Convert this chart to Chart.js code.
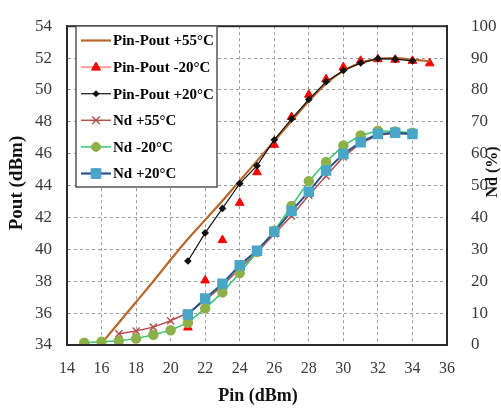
<!DOCTYPE html>
<html><head><meta charset="utf-8">
<script src="https://cdn.jsdelivr.net/npm/chart.js@4/dist/chart.umd.min.js"></script>
<style>html,body{margin:0;padding:0;background:#fff;}canvas{display:block;}</style>
</head><body>
<canvas id="c" width="501" height="408"></canvas>
<script>
// Pin-Pout +55°C (smooth line)
const pin55Pout = [16,17,18,19,20,21,22,23,24,25,26,27,28,29,30,31,32,33,34,35];
const pout55 = [34.1,35.4,36.7,38.0,39.35,40.65,41.85,43.05,44.3,45.55,46.8,48.05,49.3,50.4,51.2,51.7,51.95,52.0,51.9,51.8];
// Pin-Pout -20°C (red triangles)
const pinM20Pout = [21,22,23,24,25,26,27,28,29,30,31,32,33,34,35];
const poutM20 = [35.1,38.05,40.58,42.92,44.84,46.56,48.3,49.7,50.67,51.43,51.83,51.93,51.9,51.83,51.67];
// Pin-Pout +20°C (black)
const pin20Pout = [21,22,23,24,25,26,27,28,29,30,31,32,33,34];
const pout20 = [39.27,41.03,42.57,44.13,45.25,46.87,48.18,49.4,50.52,51.22,51.69,51.97,51.93,51.83];
// Nd +55°C
const pin55Nd = [17,18,19,20,21,22,23,24,25,26,27,28,29,30,31,32,33,34];
const nd55 = [3.5,4.4,5.6,7.6,10.1,14.0,18.6,24.0,29.0,34.8,40.5,47.0,53.0,59.0,63.3,65.8,66.4,66.0];
// Nd -20°C
const pinM20Nd = [15,16,17,18,19,20,21,22,23,24,25,26,27,28,29,30,31,32,33,34];
const ndM20 = [0.7,1.0,1.3,2.0,3.2,4.6,7.0,11.5,16.5,22.6,29.2,35.8,43.6,51.4,57.4,62.6,65.7,67.2,67.0,66.6];
// Nd +20°C
const pin20Nd = [21,22,23,24,25,26,27,28,29,30,31,32,33,34];
const nd20 = [9.6,14.6,19.2,25.0,29.6,35.5,42.0,48.1,54.7,59.9,63.6,66.2,66.6,66.2];

const xTicks = {min:14, max:36, step:2};
const yLeftTicks = {min:34, max:54, step:2};
const yRightTicks = {min:0, max:100, step:10};

const labels = ['Pin-Pout +55°C','Pin-Pout -20°C','Pin-Pout +20°C','Nd +55°C','Nd -20°C','Nd +20°C'];
const xTitle = 'Pin (dBm)', yTitle = 'Pout (dBm)', y1Title = 'Nd (%)';

const pts = (xs, ys) => xs.map((x,i)=>({x:x, y:ys[i]}));

const C = {
  brown:'#b8662a', red:'#ff0000', redLine:'#ff9c9c', black:'#111111',
  nd55:'#b5524f', green:'#35c96a', greenFill:'#8db04b', blue:'#27508e', blueFill:'#4aa6c6'
};

function drawMarker(ctx, type, x, y, r, fill, stroke, lw){
  ctx.save();
  ctx.fillStyle = fill; ctx.strokeStyle = stroke; ctx.lineWidth = lw;
  ctx.beginPath();
  if (type==='triangle'){
    ctx.moveTo(x, y - r); ctx.lineTo(x + r*0.9, y + r*0.6); ctx.lineTo(x - r*0.9, y + r*0.6); ctx.closePath(); ctx.fill(); ctx.stroke();
  } else if (type==='rectRot'){
    ctx.moveTo(x, y-r); ctx.lineTo(x+r, y); ctx.lineTo(x, y+r); ctx.lineTo(x-r, y); ctx.closePath(); ctx.fill(); ctx.stroke();
  } else if (type==='crossRot'){
    const d = r*0.75;
    ctx.moveTo(x-d,y-d); ctx.lineTo(x+d,y+d); ctx.moveTo(x+d,y-d); ctx.lineTo(x-d,y+d); ctx.stroke();
  } else if (type==='circle'){
    ctx.arc(x,y,r,0,Math.PI*2); ctx.fill(); ctx.stroke();
  } else if (type==='rect'){
    const s = r*0.75;
    ctx.rect(x-s,y-s,2*s,2*s); ctx.fill(); ctx.stroke();
  }
  ctx.restore();
}

const legendRows = [
  {line:C.brown, lw:2.2, m:null},
  {line:C.redLine, lw:2, m:['triangle',5,C.red,C.red,1]},
  {line:C.black, lw:1.2, m:['rectRot',3,C.black,C.black,1]},
  {line:C.nd55, lw:1.5, m:['crossRot',5,C.nd55,C.nd55,1.5]},
  {line:C.green, lw:1.5, m:['circle',4.5,C.greenFill,C.greenFill,1]},
  {line:C.blue, lw:2.2, m:['rect',6.5,C.blueFill,C.blueFill,1]}
];

const framePlugin = {
  id:'frameAndLegend',
  afterDraw(chart){
    const ctx = chart.ctx, a = chart.chartArea;
    ctx.save();
    ctx.setLineDash([]);
    ctx.strokeStyle = '#2a2a2a'; ctx.lineWidth = 2;
    ctx.strokeRect(a.left, a.top, a.right - a.left, a.bottom - a.top);
    const bx = 76, by = 26, bw = 141, bh = 161;
    ctx.fillStyle = '#fff'; ctx.fillRect(bx, by, bw, bh);
    ctx.strokeStyle = '#555'; ctx.lineWidth = 1.5; ctx.strokeRect(bx, by, bw, bh);
    ctx.font = 'bold 15px "Liberation Serif", "Times New Roman", serif';
    ctx.textBaseline = 'middle'; ctx.textAlign = 'left';
    legendRows.forEach((r,i)=>{
      const cy = 40.5 + i*26.6;
      ctx.strokeStyle = r.line; ctx.lineWidth = r.lw;
      ctx.beginPath(); ctx.moveTo(81, cy); ctx.lineTo(111, cy); ctx.stroke();
      if (r.m) drawMarker(ctx, r.m[0], 96, cy, r.m[1], r.m[2], r.m[3], r.m[4]);
      ctx.fillStyle = '#000';
      ctx.fillText(labels[i], 113, cy + 1);
    });
    ctx.fillStyle = '#111';
    ctx.font = 'bold 18px "Liberation Serif", "Times New Roman", serif';
    ctx.textAlign = 'center'; ctx.textBaseline = 'middle';
    ctx.fillText(xTitle, 258, 396);
    ctx.save(); ctx.translate(17, 183); ctx.rotate(-Math.PI/2);
    ctx.font = 'bold 19px "Liberation Serif", "Times New Roman", serif';
    ctx.fillText(yTitle, 0, 0); ctx.restore();
    ctx.save(); ctx.translate(493, 172); ctx.rotate(-Math.PI/2);
    ctx.font = 'bold 16px "Liberation Serif", "Times New Roman", serif';
    ctx.fillText(y1Title, 0, 0); ctx.restore();
    ctx.restore();
  }
};

const tickFont = {family:'"Liberation Serif", "Times New Roman", serif', size:17};
const dash = [3,3];
const gridStyle = {color:'#9c9c9c', lineWidth:1, drawTicks:false, borderDash:dash};
const borderStyle = {display:true, color:'#2a2a2a', width:2, dash:dash};

new Chart(document.getElementById('c'), {
  type:'line',
  data:{
    datasets:[
      {label:labels[5], data:pts(pin20Nd, nd20), yAxisID:'y1', order:0,
       borderColor:C.blue, borderWidth:2, pointStyle:'rect', pointRadius:6,
       pointBackgroundColor:C.blueFill, pointBorderColor:C.blueFill, tension:0},
      {label:labels[4], data:pts(pinM20Nd, ndM20), yAxisID:'y1', order:1,
       borderColor:C.green, borderWidth:1.5, pointStyle:'circle', pointRadius:4.5,
       pointBackgroundColor:C.greenFill, pointBorderColor:C.greenFill, tension:0},
      {label:labels[3], data:pts(pin55Nd, nd55), yAxisID:'y1', order:2,
       borderColor:C.nd55, borderWidth:1.5, pointStyle:'crossRot', pointRadius:5,
       pointBorderWidth:1.5, pointBackgroundColor:C.nd55, pointBorderColor:C.nd55, tension:0},
      {label:labels[2], data:pts(pin20Pout, pout20), yAxisID:'y', order:3,
       borderColor:C.black, borderWidth:1.2, pointStyle:'rectRot', pointRadius:3,
       pointBackgroundColor:C.black, pointBorderColor:C.black, tension:0},
      {label:labels[0], data:pts(pin55Pout, pout55), yAxisID:'y', order:4,
       borderColor:C.brown, borderWidth:2.2, pointRadius:0, tension:0.4, cubicInterpolationMode:'monotone'},
      {label:labels[1], data:pts(pinM20Pout, poutM20), yAxisID:'y', order:5, showLine:false,
       borderColor:C.red, pointStyle:'triangle', pointRadius:5,
       pointBackgroundColor:C.red, pointBorderColor:C.red}
    ]
  },
  options:{
    responsive:false, animation:false, devicePixelRatio:1,
    layout:{padding:{top:16, left:0, right:0, bottom:0}},
    plugins:{legend:{display:false}, tooltip:{enabled:false}},
    scales:{
      x:{type:'linear', position:'bottom', min:xTicks.min, max:xTicks.max,
         ticks:{stepSize:xTicks.step, color:'#3a3a3a', font:{...tickFont, size:16}, padding:14, maxRotation:0},
         grid:gridStyle, border:borderStyle,
         afterFit(s){ s.height = 63; }},
      y:{type:'linear', position:'left', min:yLeftTicks.min, max:yLeftTicks.max,
         ticks:{stepSize:yLeftTicks.step, color:'#3a3a3a', font:tickFont, padding:15},
         grid:gridStyle, border:borderStyle,
         afterFit(s){ s.width = 67; }},
      y1:{type:'linear', position:'right', min:yRightTicks.min, max:yRightTicks.max,
         ticks:{stepSize:yRightTicks.step, color:'#3a3a3a', font:tickFont, padding:16},
         grid:{display:false}, border:{display:true, color:'#2a2a2a', width:2},
         afterFit(s){ s.width = 54; }}
    }
  },
  plugins:[framePlugin]
});
</script>
</body></html>
